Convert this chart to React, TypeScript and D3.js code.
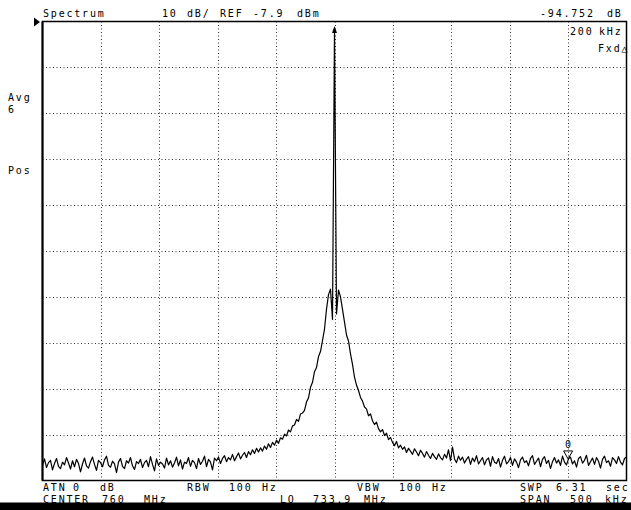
import React from "react";
import * as d3 from "d3";

// ---- Data ----
const spanKHz = [-250, 250]; // relative to center 760 MHz
const refLevel = -7.9; // dBm
const dbPerDiv = 10;
const divisions = 10;

const traceLevels: number[] = [
  -104.6, -103.2, -105.1, -104.0, -103.5, -105.6, -104.2, -103.1, -104.8, -105.3,
  -103.9, -104.5, -102.9, -104.1, -105.4, -103.6, -104.9, -103.3, -104.2, -106.0,
  -104.3, -103.0, -104.7, -105.2, -103.8, -102.8, -104.4, -105.7, -103.5, -104.0,
  -104.9, -103.4, -102.6, -104.6, -105.0, -103.7, -104.3, -106.2, -103.9, -103.1,
  -104.8, -105.3, -103.6, -104.1, -102.9, -104.7, -105.5, -103.8, -104.2, -103.3,
  -105.1, -104.0, -103.5, -104.9, -102.7, -104.4, -105.8, -103.2, -104.6, -103.9,
  -104.3, -105.2, -103.0, -104.5, -103.6, -105.0, -104.1, -102.8, -104.7, -103.4,
  -105.4, -103.9, -104.2, -102.9, -104.8, -103.5, -104.0, -105.3, -103.1, -104.4,
  -103.7, -102.6, -104.9, -103.3, -103.9, -105.6, -103.0, -103.6, -102.8, -104.2,
  -103.1, -102.5, -103.8, -102.9, -103.4, -102.2, -103.6, -102.7, -101.9, -103.2,
  -102.4, -101.8, -102.9, -101.6, -102.3, -101.2, -102.0, -100.9, -101.7, -100.8,
  -101.5, -100.4, -101.1, -99.9, -100.7, -99.6, -100.2, -99.1, -99.8, -98.6,
  -98.9, -97.8, -98.2, -96.9, -97.3, -96.0, -95.8, -94.6, -95.0, -93.4,
  -93.2, -92.6, -90.8, -89.9, -87.6, -86.5, -84.2, -83.3, -80.9, -79.8,
  -77.4, -74.9, -70.6, -67.4, -66.2, -72.8, -9.3, -71.6, -66.4, -67.9,
  -70.6, -73.4, -76.2, -77.5, -80.3, -82.6, -85.4, -87.1, -88.3, -89.8,
  -90.6, -91.9, -92.3, -93.8, -93.4, -94.9, -95.7, -95.2, -96.6, -97.3,
  -96.8, -98.1, -97.6, -99.0, -98.5, -99.6, -100.3, -99.4, -100.8, -100.2,
  -101.1, -100.6, -101.8, -100.9, -101.5, -102.2, -101.0, -101.7, -102.5, -101.3,
  -102.0, -102.8, -101.6, -102.4, -103.1, -102.0, -102.7, -103.3, -102.1, -102.9,
  -103.4, -102.2, -103.0, -101.2, -103.6, -100.6, -103.2, -104.0, -102.6, -103.5,
  -102.8, -104.1, -103.3, -102.7, -104.4, -103.0, -103.8, -102.5, -104.3, -103.6,
  -102.9, -104.5, -103.4, -103.0, -104.8, -102.7, -103.9, -104.2, -103.1, -105.0,
  -103.5, -102.6, -104.3, -103.8, -102.9, -104.6, -103.2, -103.9, -105.1, -103.4,
  -102.8, -104.0, -103.6, -104.7, -103.1, -102.5, -104.4, -103.7, -103.0, -104.9,
  -103.3, -102.7, -104.2, -103.5, -105.3, -103.8, -102.9, -104.1, -103.4, -104.6,
  -102.6, -103.9, -104.5, -103.2, -102.8, -104.3, -103.6, -105.0, -103.1, -102.7,
  -104.1, -103.5, -102.4, -104.6, -103.8, -103.0, -104.4, -102.9, -103.7, -105.2,
  -103.3, -102.6, -104.0, -103.6, -104.8, -102.9, -103.4, -104.2, -102.7, -103.9,
  -104.5, -103.1, -102.8,
];

const markerKHz = 200;
const markerLabel = "0";

// ---- Layout ----
const W = 631;
const H = 510;
const plot = { left: 42.5, right: 626.5, top: 21.5, bottom: 480.5 };
const FONT = "'DejaVu Sans Mono', 'Liberation Mono', monospace";

export default function App() {
  const x = d3.scaleLinear().domain(spanKHz).range([plot.left, plot.right]);
  const y = d3
    .scaleLinear()
    .domain([refLevel - dbPerDiv * divisions, refLevel])
    .range([plot.bottom, plot.top]);
  const idx = d3
    .scaleLinear()
    .domain([0, traceLevels.length - 1])
    .range(spanKHz);

  const line = d3
    .line<number>()
    .x((_, i) => x(idx(i)))
    .y((d) => y(d));

  const gridX = d3.range(1, divisions).map((k) => spanKHz[0] + (k * (spanKHz[1] - spanKHz[0])) / divisions);
  const gridY = d3.range(1, divisions).map((k) => refLevel - k * dbPerDiv);

  // peak
  const peakI = d3.maxIndex(traceLevels);
  const px = x(idx(peakI));
  const py = y(traceLevels[peakI]);

  // marker
  const mi = Math.round(idx.invert(markerKHz));
  const mx = x(markerKHz);
  const my = y(traceLevels[mi]);

  const t = (s: string, tx: number, ty: number, anchor: "start" | "end" = "start") => (
    <text x={tx} y={ty} textAnchor={anchor}>
      {s}
    </text>
  );

  return (
    <svg
      width={W}
      height={H}
      style={{ position: "absolute", left: 0, top: 0, background: "#fff" }}
    >
      <rect x={0} y={0} width={W} height={H} fill="#fff" />
      {/* grid */}
      <g stroke="#333" strokeWidth={1} strokeDasharray="1 2.5">
        {gridX.map((g) => (
          <line key={"gx" + g} x1={Math.round(x(g)) + 0.5} x2={Math.round(x(g)) + 0.5} y1={plot.top} y2={plot.bottom} />
        ))}
        {gridY.map((g) => (
          <line key={"gy" + g} x1={plot.left} x2={plot.right} y1={Math.round(y(g)) + 0.5} y2={Math.round(y(g)) + 0.5} />
        ))}
      </g>
      {/* trace */}
      <path d={line(traceLevels) || ""} fill="none" stroke="#000" strokeWidth={1.2} strokeLinejoin="round" />
      {/* peak arrow */}
      <path d={`M${px},${py - 2} L${px - 2.5},${py + 5} L${px + 2.5},${py + 5} Z`} fill="#000" />
      {/* marker */}
      <path
        d={`M${mx},${my} L${mx - 4.5},${my - 8} L${mx + 4.5},${my - 8} Z`}
        fill="none"
        stroke="#000"
        strokeWidth={1}
      />
      <text x={mx} y={my - 11} textAnchor="middle" fontFamily={FONT} fontSize={10}>
        {markerLabel}
      </text>
      {/* frame */}
      <rect
        x={plot.left}
        y={plot.top}
        width={plot.right - plot.left}
        height={plot.bottom - plot.top}
        fill="none"
        stroke="#000"
        strokeWidth={1.5}
      />
      <line x1={plot.left} x2={plot.left} y1={plot.top} y2={plot.bottom} stroke="#000" strokeWidth={2} />
      {/* ref indicator */}
      <path d={`M34,${plot.top - 4} L34,${plot.top + 5} L40,${plot.top + 0.5} Z`} fill="#000" />
      {/* texts */}
      <g fontFamily={FONT} fontSize={10} fill="#000" style={{ letterSpacing: "1.8px" }}>
        {t("Spectrum", 43, 17)}
        {t("10", 162, 17)}
        {t("dB/", 187, 17)}
        {t("REF", 220, 17)}
        {t("-7.9", 253, 17)}
        {t("dBm", 297, 17)}
        {t("-94.752", 540, 17)}
        {t("dB", 607, 17)}
        {t("200", 570, 35)}
        {t("kHz", 599, 35)}
        {t("Fxd\u25B3", 598, 52)}
        {t("Avg", 8, 101)}
        {t("6", 8, 113)}
        {t("Pos", 8, 174)}
        {t("ATN", 43, 491)}
        {t("0", 73, 491)}
        {t("dB", 100, 491)}
        {t("RBW", 187, 491)}
        {t("100", 229, 491)}
        {t("Hz", 262, 491)}
        {t("VBW", 357, 491)}
        {t("100", 399, 491)}
        {t("Hz", 432, 491)}
        {t("SWP", 520, 491)}
        {t("6.31", 556, 491)}
        {t("sec", 606, 491)}
        {t("CENTER", 43, 502.5)}
        {t("760", 102, 502.5)}
        {t("MHz", 144, 502.5)}
        {t("LO", 280, 502.5)}
        {t("733.9", 313, 502.5)}
        {t("MHz", 364, 502.5)}
        {t("SPAN", 520, 502.5)}
        {t("500", 570, 502.5)}
        {t("kHz", 605, 502.5)}
      </g>
      <rect x={0} y={502.5} width={W} height={H - 502.5} fill="#000" />
    </svg>
  );
}
